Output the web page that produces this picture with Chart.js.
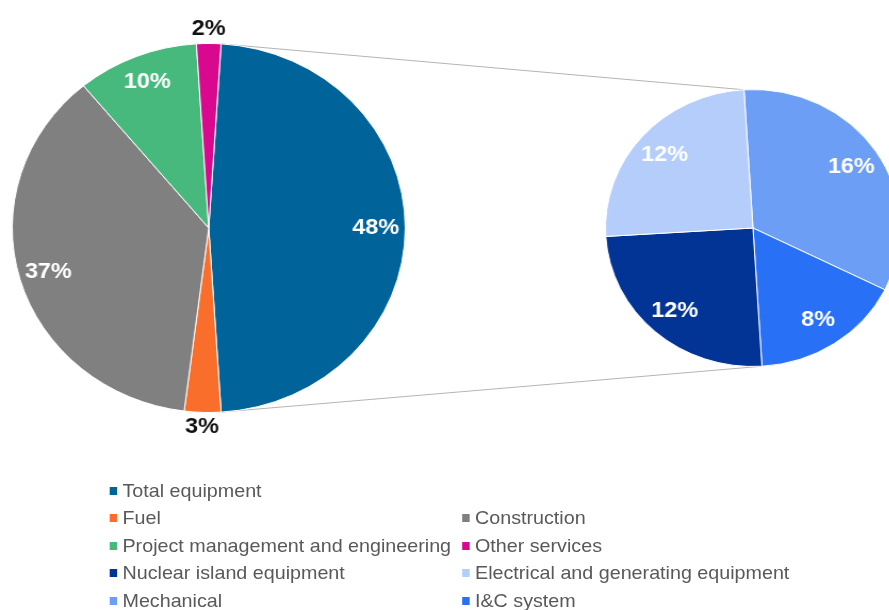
<!DOCTYPE html>
<html>
<head>
<meta charset="utf-8">
<script src="https://cdn.jsdelivr.net/npm/chart.js@4.4.1/dist/chart.umd.min.js"></script>
<style>
  html, body { margin: 0; padding: 0; background: #fff; overflow: hidden; }
  body { width: 889px; height: 610px; position: relative; }
  /* source picture is slightly stretched sideways, so stretch the whole stage */
  #stage { position: absolute; left: 0; top: 0; width: 835px; height: 610px; transform: scaleX(1.065); transform-origin: 0 0; }
  #stage canvas { position: absolute; }
  #lines { left: 0; top: 0; }
  #pie-main { left: -14px; top: 8px; }
  #pie-sub { left: 557px; top: 78px; }
  #legend {
    position: absolute; left: 103px; top: 477px;
    display: grid; grid-template-columns: 331px auto; grid-auto-rows: 27.5px;
    font: 18.5px "Liberation Sans", Arial, sans-serif; color: #595959;
  }
  .lg-item { display: flex; align-items: center; white-space: nowrap; }
  .lg-item.wide { grid-column: 1 / span 2; }
  .lg-box { width: 7px; height: 8px; margin-right: 5px; flex: none; }
</style>
</head>
<body>
<div id="stage">
  <canvas id="lines" width="835" height="460"></canvas>
  <canvas id="pie-main" width="420" height="440"></canvas>
  <canvas id="pie-sub" width="300" height="300"></canvas>
  <div id="legend"></div>
</div>
<script>
// ── Data ─────────────────────────────────────────────────
const mainLabels = ["Total equipment", "Fuel", "Construction", "Project management and engineering", "Other services"];
const mainValues = [48, 3, 37, 10, 2];
const subLabels  = ["Mechanical", "I&C system", "Nuclear island equipment", "Electrical and generating equipment"];
const subValues  = [16, 8, 12, 12];
const legendOrder = [
  "Total equipment", "Fuel", "Construction", "Project management and engineering",
  "Other services", "Nuclear island equipment", "Electrical and generating equipment",
  "Mechanical", "I&C system",
];

// ── Colours ──────────────────────────────────────────────
const mainColors = ["#006399", "#fa6e2c", "#808080", "#47b97c", "#d8098e"];
const subColors  = ["#6c9ef6", "#2870f5", "#023496", "#b5cdfa"];

const FONT = '"Liberation Sans", Arial, sans-serif';

// ── Slice labels ─────────────────────────────────────────
const sliceLabels = {
  id: "sliceLabels",
  afterDatasetsDraw(chart, args, opts) {
    const ctx = chart.ctx;
    const values = chart.data.datasets[0].data;
    ctx.save();
    ctx.font = `bold ${opts.size}px ${FONT}`;
    ctx.textAlign = "center";
    ctx.textBaseline = "middle";
    chart.getDatasetMeta(0).data.forEach((arc, i) => {
      const v = values[i];
      const out = v < opts.minInside;
      const mid = (arc.startAngle + arc.endAngle) / 2;
      const r = arc.outerRadius * (out ? opts.outside : opts.inside);
      ctx.fillStyle = out ? opts.outColor : opts.inColor;
      ctx.fillText(v + "%", arc.x + Math.cos(mid) * r, arc.y + Math.sin(mid) * r);
    });
    ctx.restore();
  },
};

// ── Connector lines between the pies ─────────────────────
function drawConnectors(main, sub) {
  const cv = document.getElementById("lines");
  const ctx = cv.getContext("2d");
  const a = main.getDatasetMeta(0).data[0];
  const b = sub.getDatasetMeta(0).data[0];
  const ax = main.canvas.offsetLeft + a.x, ay = main.canvas.offsetTop + a.y;
  const bx = sub.canvas.offsetLeft + b.x, by = sub.canvas.offsetTop + b.y;
  const pt = (cx, cy, r, ang) => [cx + Math.cos(ang) * r, cy + Math.sin(ang) * r];
  const pairs = [
    [pt(ax, ay, a.outerRadius, a.startAngle), pt(bx, by, b.outerRadius, b.startAngle)],
    [pt(ax, ay, a.outerRadius, a.endAngle),   pt(bx, by, b.outerRadius, b.startAngle + Math.PI)],
  ];
  ctx.clearRect(0, 0, cv.width, cv.height);
  ctx.strokeStyle = "#b4b4b4";
  ctx.lineWidth = 1;
  for (const [p, q] of pairs) {
    ctx.beginPath();
    ctx.moveTo(p[0], p[1]);
    ctx.lineTo(q[0], q[1]);
    ctx.stroke();
  }
}

// ── Charts ───────────────────────────────────────────────
function pieConfig(labels, values, colors, pad, rotation, labelOpts) {
  return {
    type: "pie",
    data: {
      labels,
      datasets: [{
        data: values,
        backgroundColor: colors,
        borderColor: "#ffffff",
        borderWidth: 1,
      }],
    },
    options: {
      responsive: false,
      animation: false,
      events: [],
      rotation,
      layout: { padding: pad },
      plugins: {
        legend: { display: false },
        tooltip: { enabled: false },
        sliceLabels: labelOpts,
      },
    },
    plugins: [sliceLabels],
  };
}

// split slice sits centred on the right side, like an Excel pie-of-pie
const mainRotation = 90 - mainValues[0] * 3.6 / 2;

const mainChart = new Chart(
  document.getElementById("pie-main"),
  pieConfig(mainLabels, mainValues, mainColors, { left: 25, right: 25, top: 35, bottom: 35 }, mainRotation,
    { size: 22, inside: 0.85, outside: 1.08, minInside: 5, inColor: "#ffffff", outColor: "#111111" })
);

const subCfg = pieConfig(subLabels, subValues, subColors, 11, -3.5,
  { size: 22, inside: 0.8, outside: 1.1, minInside: 0, inColor: "#ffffff", outColor: "#111111" });
subCfg.plugins.push({
  id: "connectors",
  afterRender(chart) { drawConnectors(mainChart, chart); },
});
const subChart = new Chart(document.getElementById("pie-sub"), subCfg);

// ── Legend ───────────────────────────────────────────────
const colorOf = {};
mainLabels.forEach((l, i) => { colorOf[l] = mainColors[i]; });
subLabels.forEach((l, i) => { colorOf[l] = subColors[i]; });

const legendEl = document.getElementById("legend");
legendOrder.forEach((label, i) => {
  const item = document.createElement("div");
  item.className = "lg-item" + (i === 0 ? " wide" : "");
  const box = document.createElement("span");
  box.className = "lg-box";
  box.style.background = colorOf[label];
  const txt = document.createElement("span");
  txt.textContent = label;
  item.appendChild(box);
  item.appendChild(txt);
  legendEl.appendChild(item);
});
</script>
</body>
</html>
